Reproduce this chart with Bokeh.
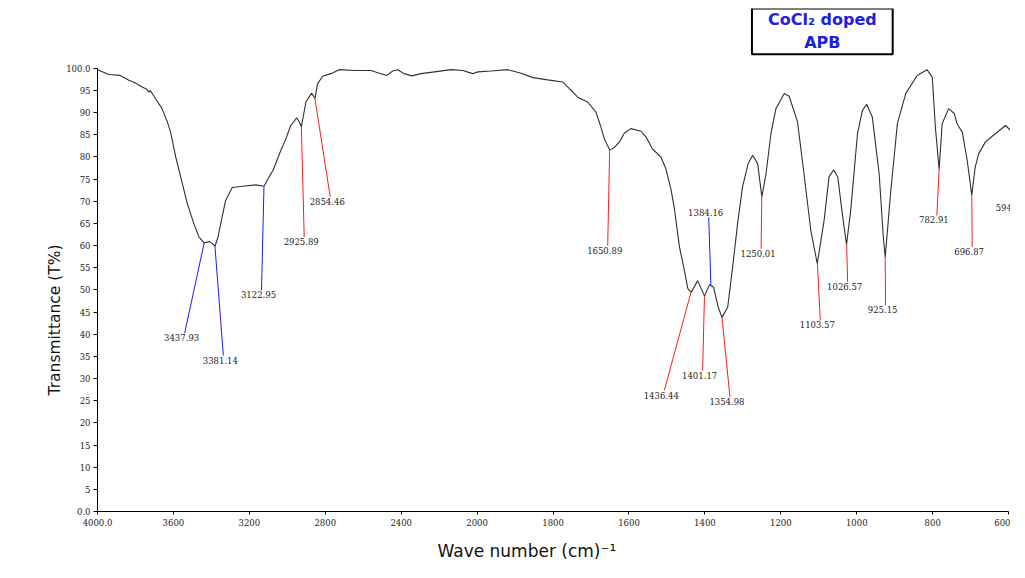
import numpy as np
from bokeh.plotting import figure
from bokeh.models import Range1d, FixedTicker, Label, ColumnDataSource, Title
from bokeh.core.properties import value
from bokeh.embed import file_html
from bokeh.resources import INLINE

# ---------------- data ----------------
wavenumber = [4000, 3940, 3880, 3835, 3800, 3765, 3740, 3730, 3722, 3695, 3660, 3632, 3615, 3588,
              3553, 3527, 3492, 3465, 3438, 3413, 3395, 3381, 3365, 3351, 3325, 3290, 3236, 3166,
              3123, 3096, 3075, 3034, 3010, 2982, 2950, 2938, 2926, 2902, 2872, 2854, 2841, 2814,
              2770, 2727, 2647, 2559, 2515, 2475, 2445, 2419, 2384, 2345, 2296, 2225, 2137, 2076,
              2023, 1998, 1963, 1919, 1884, 1853, 1814, 1774, 1757, 1735, 1709, 1687, 1674, 1665,
              1651, 1639, 1625, 1612, 1595, 1568, 1555, 1538, 1516, 1503, 1489, 1481, 1467, 1454,
              1445, 1436, 1419, 1401, 1388, 1384, 1377, 1365, 1355, 1340, 1327, 1314, 1301, 1286,
              1274, 1261, 1250, 1239, 1226, 1213, 1191, 1178, 1156, 1139, 1121, 1104, 1086, 1073,
              1061, 1050, 1040, 1027, 1016, 998, 985, 974, 959, 941, 930, 925, 911, 893, 871, 841,
              815, 801, 793, 783, 775, 758, 743, 736, 722, 709, 697, 688, 679, 661, 640, 608, 595]
transmittance = [99.7, 98.6, 98.4, 97.3, 96.7, 95.8, 95.3, 94.6, 95.0, 93.2, 90.9, 87.9, 85.6, 80.0,
                 74.0, 69.5, 64.9, 61.9, 60.6, 60.9, 60.5, 59.8, 62.0, 64.9, 70.2, 73.1, 73.4, 73.7,
                 73.4, 75.5, 77.0, 81.5, 83.8, 87.1, 88.8, 88.0, 86.8, 92.4, 94.4, 93.2, 96.5, 98.2,
                 98.8, 99.7, 99.5, 99.5, 98.9, 98.4, 99.4, 99.7, 98.8, 98.3, 98.8, 99.2, 99.7, 99.5,
                 98.8, 99.2, 99.4, 99.7, 98.9, 97.9, 97.4, 96.9, 95.4, 93.5, 92.4, 90.1, 86.8, 84.1,
                 81.6, 82.1, 83.4, 85.4, 86.4, 85.8, 84.5, 81.8, 80.0, 77.4, 72.5, 68.7, 59.7, 54.4,
                 50.3, 49.5, 52.1, 48.6, 51.2, 51.0, 50.6, 46.1, 43.8, 46.1, 55.1, 64.9, 73.2, 78.5,
                 80.4, 78.5, 71.0, 76.2, 85.3, 90.9, 94.3, 93.7, 87.9, 76.2, 63.4, 55.9, 65.7, 75.5,
                 77.1, 75.5, 68.5, 60.2, 67.9, 85.3, 90.5, 91.9, 89.0, 76.2, 61.9, 57.4, 71.7, 87.5,
                 94.3, 98.4, 99.7, 98.0, 86.8, 77.2, 87.5, 90.9, 89.8, 87.5, 85.6, 79.2, 71.4, 77.7,
                 80.7, 83.4, 84.9, 87.1, 86.0]

# marked peaks: position, transmittance at the peak, end of the leader line (label anchor)
peak_wn = [3437.93, 3381.14, 3122.95, 2925.89, 2854.46, 1650.89, 1436.44, 1401.17,
           1384.16, 1354.98, 1250.01, 1103.57, 1026.57, 925.15, 782.91, 696.87]
peak_t = [60.6, 59.8, 73.4, 86.8, 93.2, 81.6, 49.5, 48.6,
          51.1, 43.8, 71.0, 55.9, 60.2, 57.4, 77.2, 71.4]
label_wn = [3541, 3337, 3136, 2911, 2774, 1656, 1507, 1406,
            1390, 1334, 1252, 1096, 1024, 924, 789, 696]
label_t = [40.2, 35.2, 49.9, 61.9, 71.0, 60.0, 27.3, 31.8,
           66.4, 25.8, 59.3, 43.1, 51.8, 46.5, 66.8, 59.7]
peak_class = ["b", "b", "b", "r", "r", "r", "r", "r",
              "b", "r", "r", "r", "r", "r", "r", "r"]
label_side = ["below"] * 8 + ["above"] + ["below"] * 7

# partially visible label at the right edge
edge_label = "594"
edge_label_wn = 634
edge_label_t = 69.3

tick_wn = [4000, 3600, 3200, 2800, 2400, 2000, 1800, 1600, 1400, 1200, 1000, 800, 600]
tick_text = ["4000.0", "3600", "3200", "2800", "2400", "2000", "1800", "1600", "1400",
             "1200", "1000", "800", "600"]
y_ticks = list(range(0, 101, 5))
y_tick_text = ["0.0"] + [str(v) for v in range(5, 100, 5)] + ["100.0"]

title_text = "CoCl\u2082 doped\nAPB"
x_title = "Wave number (cm)\u207b\u00b9"
y_title = "Transmittance (T%)"

# ---------------- axis scale: half-scale above 2000 cm-1 ----------------
def fold(w):
    w = np.asarray(w, dtype=float)
    return np.where(w > 2000, 2000 + (w - 2000) / 2.0, w)

class_colors = {"b": "#1a1aff", "r": "#ff1a1a"}

p = figure(width=1010, height=578, output_backend="svg", toolbar_location=None,
           x_range=Range1d(3000, 595), y_range=Range1d(0, 113.5),
           min_border_left=97, min_border_right=0, min_border_top=8, min_border_bottom=67)
p.outline_line_color = None
p.xgrid.visible = False
p.ygrid.visible = False
p.background_fill_color = "white"

p.line(fold(wavenumber), transmittance, line_color="#303030", line_width=1.1)

colors = [class_colors[c] for c in peak_class]
seg = ColumnDataSource(dict(x0=fold(peak_wn), y0=peak_t, x1=fold(label_wn), y1=label_t,
                            color=colors))
p.segment("x0", "y0", "x1", "y1", source=seg, line_color="color", line_width=1)

below_idx = [i for i, s in enumerate(label_side) if s == "below"]
above_idx = [i for i, s in enumerate(label_side) if s == "above"]
src_below = ColumnDataSource(dict(x=fold([label_wn[i] for i in below_idx]),
                                  y=[label_t[i] for i in below_idx],
                                  t=["%.2f" % peak_wn[i] for i in below_idx]))
src_above = ColumnDataSource(dict(x=fold([label_wn[i] for i in above_idx]),
                                  y=[label_t[i] for i in above_idx],
                                  t=["%.2f" % peak_wn[i] for i in above_idx]))
common = dict(text="t", text_font=value("DejaVu Serif"), text_font_size="8.5px",
              text_color="#222222", text_align="center", x_offset=-3)
p.text("x", "y", source=src_below, text_baseline="top", y_offset=1, **common)
p.text("x", "y", source=src_above, text_baseline="bottom", y_offset=-1, **common)
p.text(x=fold([edge_label_wn]), y=[edge_label_t], text=[edge_label],
       text_font=value("DejaVu Serif"), text_font_size="8.5px", text_color="#222222",
       text_align="left", text_baseline="top")

# axes
xa = p.xaxis[0]
xa.ticker = FixedTicker(ticks=list(fold(tick_wn)))
xa.major_label_overrides = {float(k): v for k, v in zip(fold(tick_wn), tick_text)}
xa.bounds = (float(fold(600)), 3000)
ya = p.yaxis[0]
ya.ticker = FixedTicker(ticks=y_ticks)
ya.major_label_overrides = {v: t for v, t in zip(y_ticks, y_tick_text)}
ya.bounds = (0, 100)
for ax in (xa, ya):
    ax.axis_line_color = "black"
    ax.major_tick_line_color = "black"
    ax.minor_tick_line_color = None
    ax.major_tick_in = 0
    ax.major_label_text_font = "DejaVu Serif"
    ax.major_label_text_font_size = "8.5px"
    ax.major_label_text_color = "#222222"
xa.major_tick_out = 3
xa.major_label_standoff = 4
ya.major_tick_out = 4
ya.major_label_standoff = 3

# axis titles
p.add_layout(Title(text=x_title, text_font="DejaVu Sans", text_font_size="17px",
                   text_font_style="normal", text_color="#111111",
                   align="left", offset=340, standoff=21), "below")
p.add_layout(Title(text=y_title, text_font="DejaVu Sans", text_font_size="15.5px",
                   text_font_style="normal", text_color="#111111",
                   align="left", offset=116, standoff=0), "left")

# boxed title
p.add_layout(Label(x=1090.7, y=108.35, text=title_text, text_font="DejaVu Sans",
                   text_font_size="16px", text_font_style="bold", text_color="#2020e0",
                   text_align="center", text_baseline="middle",
                   border_line_color="black", border_line_width=2,
                   background_fill_color="white",
                   padding=dict(left=16, right=16, top=2, bottom=2)))

open("out.html", "w").write(file_html(p, INLINE))
